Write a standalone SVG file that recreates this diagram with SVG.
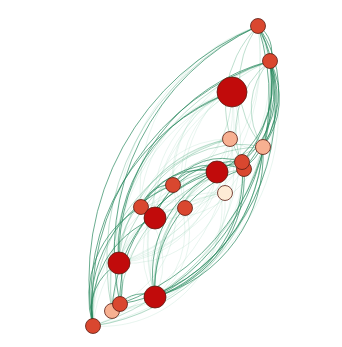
<svg xmlns="http://www.w3.org/2000/svg" width="342" height="347" viewBox="0 0 342 347">
<style>
#edges path{fill:none}
.s path{stroke:#24865a;stroke-width:.85;stroke-opacity:.8}
.m path{stroke:#2f9a66;stroke-width:.7;stroke-opacity:.45}
.f path{stroke:#4fae80;stroke-width:.6;stroke-opacity:.22}
circle{stroke:#5a1c12;stroke-width:.8}
.ro{fill:#d9472f}
.dk{fill:#c10b0b}
.pe{fill:#f7b091}
.cr{fill:#fdebd6}
</style>
<rect width="342" height="347" fill="#fff"/>
<g id="edges">
<g class="f">
<path d="M119 263A220 220 0 0 1 258 26"/>
<path d="M141 207A172 172 0 0 1 258 26"/>
<path d="M155 218A118 118 0 0 1 232 92"/>
<path d="M141 207A118 118 0 0 1 232 92"/>
<path d="M173 185A88 88 0 0 1 232 92"/>
<path d="M185 208A100 100 0 0 1 232 92"/>
<path d="M173 185A126 126 0 0 1 270 61"/>
<path d="M185 208A136 136 0 0 1 270 61"/>
<path d="M232 92A175 175 0 0 1 155 297"/>
<path d="M232 92A164 164 0 0 1 119 263"/>
<path d="M230 139A140 140 0 0 1 155 297"/>
<path d="M230 139A133 133 0 0 1 119 263"/>
<path d="M263 147A103 103 0 0 1 155 218"/>
<path d="M242 162A88 88 0 0 1 141 207"/>
<path d="M217 172A107 107 0 0 1 119 263"/>
<path d="M225 193A100 100 0 0 1 155 297"/>
<path d="M155 297A100 100 0 0 1 225 193"/>
<path d="M185 208A75 75 0 0 1 155 297"/>
<path d="M155 297A75 75 0 0 1 185 208"/>
<path d="M119 263A69 69 0 0 1 185 208"/>
<path d="M232 92A218 218 0 0 1 93 326"/>
<path d="M258 26A222 222 0 0 1 93 326"/>
<path d="M258 26A200 200 0 0 1 112 311"/>
<path d="M258 26A220 220 0 0 1 119 263"/>
<path d="M225 193A102 102 0 0 1 119 263"/>
<path d="M185 208A59 59 0 0 1 242 162"/>
<path d="M185 208A39 39 0 0 1 217 172"/>
<path d="M263 147A40 40 0 0 1 230 139"/>
<path d="M232 92A40 40 0 0 1 230 139"/>
<path d="M141 207A90 90 0 0 1 230 139"/>
<path d="M155 218A87 87 0 0 1 230 139"/>
<path d="M93 326A158 158 0 0 1 217 172"/>
<path d="M93 326A150 150 0 0 1 225 193"/>
<path d="M112 311A131 131 0 0 1 225 193"/>
<path d="M119 263A102 102 0 0 1 225 193"/>
<path d="M173 185A104 104 0 0 1 120 304"/>
<path d="M263 147A178 178 0 0 1 112 311"/>
<path d="M244 169A174 174 0 0 1 93 326"/>
<path d="M270 61A202 202 0 0 1 119 263"/>
<path d="M232 92A120 120 0 0 1 141 207"/>
<path d="M232 92A100 100 0 0 1 173 185"/>
<path d="M270 61A140 140 0 0 1 185 208"/>
<path d="M258 26A180 180 0 0 1 155 218"/>
<path d="M230 139A100 100 0 0 1 141 207"/>
<path d="M217 172A120 120 0 0 1 93 326"/>
<path d="M242 162A140 140 0 0 1 112 311"/>
<path d="M173 185A90 90 0 0 1 155 297"/>
<path d="M155 297A90 90 0 0 1 173 185"/>
<path d="M141 207A80 80 0 0 1 155 297"/>
<path d="M112 311A150 150 0 0 1 230 139"/>
<path d="M120 304A190 190 0 0 1 232 92"/>
<path d="M155 297A180 180 0 0 1 232 92"/>
<path d="M155 297A200 200 0 0 1 270 61"/>
</g>
<g class="m">
<path d="M155 218A62 62 0 0 1 217 172"/>
<path d="M119 263A148 148 0 0 1 263 147"/>
<path d="M141 207A109 109 0 0 1 263 147"/>
<path d="M119 263A76 76 0 0 1 173 185"/>
<path d="M263 147A97 97 0 0 1 258 26"/>
<path d="M242 162A110 110 0 0 1 258 26"/>
<path d="M263 147A69 69 0 0 1 270 61"/>
<path d="M244 169A89 89 0 0 1 270 61"/>
<path d="M93 326A186 186 0 0 1 230 139"/>
<path d="M119 263A133 133 0 0 1 230 139"/>
<path d="M155 297A129 129 0 0 1 242 162"/>
<path d="M120 304A146 146 0 0 1 244 169"/>
<path d="M155 297A148 148 0 0 1 263 147"/>
<path d="M112 311A256 256 0 0 1 258 26"/>
<path d="M112 311A237 237 0 0 1 270 61"/>
<path d="M270 61A255 255 0 0 1 93 326"/>
<path d="M263 147A198 198 0 0 1 93 326"/>
</g>
<g class="s">
<path d="M93 326A274 274 0 0 1 258 26"/>
<path d="M120 304A248 248 0 0 1 258 26"/>
<path d="M93 326A255 255 0 0 1 270 61"/>
<path d="M119 263A202 202 0 0 1 270 61"/>
<path d="M93 326A218 218 0 0 1 232 92"/>
<path d="M119 263A164 164 0 0 1 232 92"/>
<path d="M258 26A110 110 0 0 1 263 147"/>
<path d="M258 26A120 120 0 0 1 242 162"/>
<path d="M258 26A125 125 0 0 1 244 169"/>
<path d="M270 61A80 80 0 0 1 263 147"/>
<path d="M270 61A90 90 0 0 1 242 162"/>
<path d="M270 61A95 95 0 0 1 244 169"/>
<path d="M270 61A98 98 0 0 1 217 172"/>
<path d="M258 26A30 30 0 0 1 270 61"/>
<path d="M258 26A232 232 0 0 1 155 297"/>
<path d="M270 61A210 210 0 0 1 155 297"/>
<path d="M263 147A148 148 0 0 1 155 297"/>
<path d="M263 147A170 170 0 0 1 120 304"/>
<path d="M242 162A129 129 0 0 1 155 297"/>
<path d="M244 169A125 125 0 0 1 155 297"/>
<path d="M270 61A229 229 0 0 1 120 304"/>
<path d="M155 297A112 112 0 0 1 217 172"/>
<path d="M155 297A125 125 0 0 1 244 169"/>
<path d="M120 304A131 131 0 0 1 217 172"/>
<path d="M141 207A67 67 0 0 1 217 172"/>
<path d="M155 218A83 83 0 0 1 242 162"/>
<path d="M141 207A88 88 0 0 1 244 169"/>
<path d="M173 185A37 37 0 0 1 217 172"/>
<path d="M120 304A29 29 0 0 1 155 297"/>
<path d="M93 326A55 55 0 0 1 119 263"/>
<path d="M119 263A80 80 0 0 1 120 304"/>
<path d="M93 326A103 103 0 0 1 141 207"/>
<path d="M93 326A100 100 0 0 1 155 218"/>
<path d="M141 207A31 31 0 0 1 173 185"/>
<path d="M173 185A58 58 0 0 1 242 162"/>
<path d="M93 326A130 130 0 0 1 173 185"/>
<path d="M112 311A158 158 0 0 1 242 162"/>
</g>
</g>
<g id="nA"><circle class="ro" cx="258" cy="26" r="7.5"/></g>
<g id="nB"><circle class="ro" cx="270" cy="61" r="7.5"/></g>
<g id="nC"><circle class="dk" cx="232" cy="92" r="15"/></g>
<g id="nD"><circle class="pe" cx="230" cy="139" r="7.5"/></g>
<g id="nE"><circle class="pe" cx="263" cy="147" r="7.5"/></g>
<g id="nG"><circle class="ro" cx="244" cy="169" r="7.5"/></g>
<g id="nF"><circle class="ro" cx="242" cy="162" r="7.5"/></g>
<g id="nH"><circle class="dk" cx="217" cy="172" r="11"/></g>
<g id="nI"><circle class="cr" cx="225" cy="193" r="7.5"/></g>
<g id="nJ"><circle class="ro" cx="173" cy="185" r="7.5"/></g>
<g id="nK"><circle class="ro" cx="141" cy="207" r="7.5"/></g>
<g id="nL"><circle class="dk" cx="155" cy="218" r="11"/></g>
<g id="nM"><circle class="ro" cx="185" cy="208" r="7.5"/></g>
<g id="nN"><circle class="dk" cx="119" cy="263" r="11"/></g>
<g id="nO"><circle class="dk" cx="155" cy="297" r="11"/></g>
<g id="nP"><circle class="pe" cx="112" cy="311" r="7.5"/></g>
<g id="nQ"><circle class="ro" cx="120" cy="304" r="7.5"/></g>
<g id="nR"><circle class="ro" cx="93" cy="326" r="7.5"/></g>
</svg>
